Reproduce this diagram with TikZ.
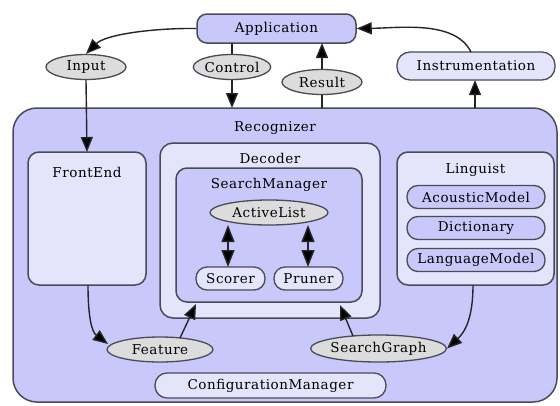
\documentclass[tikz,border=0pt]{standalone}
\usepackage{fontspec}
\setmainfont{DejaVu Serif}[LetterSpace=4]
\usetikzlibrary{arrows.meta,shapes.geometric,calc}
\definecolor{lav}{HTML}{C8C8FA}
\definecolor{lite}{HTML}{E4E4FB}
\definecolor{grayfill}{HTML}{DCDCDC}
\definecolor{edge}{HTML}{4A4A58}
\tikzset{
  every node/.style={font=\fontsize{13.5}{15}\selectfont, text=black},
  box/.style={draw=edge, line width=1.5pt, rounded corners=11pt, inner sep=0pt},
  pill/.style={draw=edge, line width=1.3pt, rounded corners=11pt, inner sep=0pt, minimum height=23pt},
  oval/.style={ellipse, draw=edge, line width=1.3pt, fill=grayfill, inner sep=0pt, minimum height=25pt},
  title/.style={inner sep=0pt},
  conn/.style={line width=1.4pt, draw=black!85, -{Triangle[length=15pt,width=12pt,fill=black]}},
  plain/.style={line width=1.4pt, draw=black!85},
  dbl/.style={line width=1.4pt, draw=black!85, {Triangle[length=17pt,width=13pt,fill=black]}-{Triangle[length=17pt,width=13pt,fill=black]}},
}
\begin{document}
\begin{tikzpicture}[x=1pt,y=-1pt]
\useasboundingbox (0,0) rectangle (560,405);
\fill[white] (0,0) rectangle (560,405);

% Recognizer
\node[box, fill=lav, rounded corners=24pt, minimum width=544pt, minimum height=294pt] (rec) at (285,255) {};
\node[title] (rect) at (275,128) {Recognizer};

% FrontEnd
\node[box, fill=lite, minimum width=118pt, minimum height=133pt] (fe) at (87,218.5) {};
\node[title] (fet) at (87,172) {FrontEnd};

% Decoder
\node[box, fill=lite, rounded corners=13pt, minimum width=220pt, minimum height=175pt] (dec) at (270,230.5) {};
\node[title] (dect) at (270,158) {Decoder};
\node[box, fill=lav, minimum width=186pt, minimum height=134pt] (sm) at (269,235) {};
\node[title] (smt) at (269,185) {SearchManager};
\node[oval, minimum width=118pt] (al) at (269,212.5) {ActiveList};
\node[pill, fill=lite, minimum width=69pt] (sc) at (230.5,278.5) {Scorer};
\node[pill, fill=lite, minimum width=69pt] (pr) at (308.5,278.5) {Pruner};

% Linguist
\node[box, fill=lite, minimum width=157pt, minimum height=133pt] (ling) at (475.5,218.5) {};
\node[title] (lingt) at (475.5,170) {Linguist};
\node[pill, fill=lav, minimum width=138pt] (am) at (476,197) {AcousticModel};
\node[pill, fill=lav, minimum width=138pt] (dic) at (476,228) {Dictionary};
\node[pill, fill=lav, minimum width=138pt] (lm) at (476,260) {LanguageModel};

% bottom
\node[oval, minimum width=106pt] (feat) at (160,349.5) {Feature};
\node[oval, minimum width=133pt, minimum height=27pt] (sg) at (378.5,348.5) {SearchGraph};
\node[pill, fill=lite, minimum width=231pt, minimum height=25pt, rounded corners=12pt] (cfg) at (270.5,385.5) {ConfigurationManager};

% top
\node[box, fill=lav, rounded corners=10pt, minimum width=159pt, minimum height=29pt] (app) at (276.5,28.5) {Application};
\node[oval, minimum width=80pt] (inp) at (86,67) {Input};
\node[oval, minimum width=77pt] (ctl) at (232,67) {Control};
\node[oval, minimum width=80pt] (res) at (322,82) {Result};
\node[pill, fill=lite, minimum width=158pt, minimum height=28pt, rounded corners=13pt] (inst) at (476,66) {Instrumentation};

% coordinates on box borders
\coordinate (appC) at (232,43);
\coordinate (appR) at (322,43);
\coordinate (recC) at (232,108);
\coordinate (recR) at (322,108);
\coordinate (recI) at (475,108);
\coordinate (instB) at (475,80);
\coordinate (instT) at (471,52);
\coordinate (feT) at (87,152);
\coordinate (feB) at (88,285);
\coordinate (lingB) at (473,285);
\coordinate (decL) at (196,304);
\coordinate (decR) at (340,305);
\coordinate (featT) at (180,338);
\coordinate (sgT) at (353,336);
\coordinate (alL) at (228,225);
\coordinate (alR) at (308,225);
\coordinate (scT) at (228,267);
\coordinate (prT) at (308,267);
\coordinate (featW) at (108,344);

% connectors
\draw[conn] (app.west) .. controls (150,28) and (105,35) .. (inp.north);
\draw[plain] (appC) -- (ctl.north);
\draw[conn] (ctl.south) -- (recC);
\draw[plain] (recR) -- (res.south);
\draw[conn] (res.north) -- (appR);
\draw[conn] (recI) -- (instB);
\draw[conn] (instT) .. controls (455,20) and (400,28) .. (app.east);
\draw[conn] (inp.south) -- (feT);
\draw[conn] (feB) .. controls (88,318) and (92,332) .. (featW);
\draw[conn] (featT) -- (decL);
\draw[conn] (lingB) .. controls (473,318) and (465,332) .. (sg.east);
\draw[conn] (sgT) -- (decR);
\draw[dbl] (alL) -- (scT);
\draw[dbl] (alR) -- (prT);
\end{tikzpicture}
\end{document}
